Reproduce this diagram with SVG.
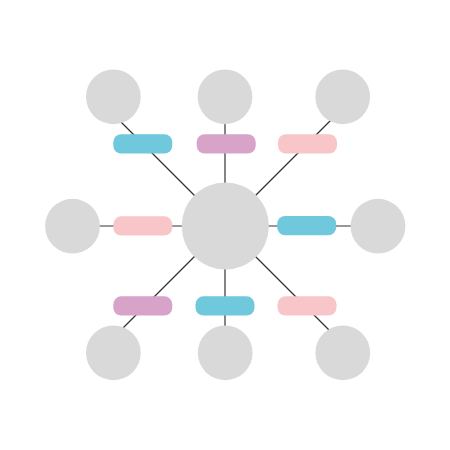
<svg xmlns="http://www.w3.org/2000/svg" width="450" height="450" viewBox="0 0 450 450">
  <style>
    .node { fill: #d9d9d9; }
    .edge { stroke: #333333; stroke-width: 1.2; fill: none; }
    .blue { fill: #70c8dc; }
    .purple { fill: #d8a3c9; }
    .pink { fill: #f8c6c8; }
  </style>
  <rect width="450" height="450" fill="#ffffff"/>
  <g id="connectors">
    <line class="edge" x1="225" y1="226" x2="113" y2="114"/>
    <line class="edge" x1="225" y1="226" x2="225" y2="97"/>
    <line class="edge" x1="225" y1="226" x2="338" y2="113"/>
    <line class="edge" x1="225" y1="226" x2="72.5" y2="226"/>
    <line class="edge" x1="225" y1="226" x2="378" y2="226"/>
    <line class="edge" x1="225" y1="226" x2="113" y2="338"/>
    <line class="edge" x1="225" y1="226" x2="225" y2="353"/>
    <line class="edge" x1="225" y1="226" x2="338" y2="339"/>
  </g>
  <g id="labels">
    <rect id="label-tl" class="blue" x="113.3" y="134.2" width="59" height="19.3" rx="8"/>
    <rect id="label-t" class="purple" x="196.7" y="134.2" width="59" height="19.3" rx="8"/>
    <rect id="label-tr" class="pink" x="278" y="134.2" width="59" height="19.3" rx="8"/>
    <rect id="label-l" class="pink" x="113.3" y="216.3" width="59" height="19.3" rx="8"/>
    <rect id="label-r" class="blue" x="277.2" y="216" width="59" height="19.3" rx="8"/>
    <rect id="label-bl" class="purple" x="113.3" y="296.3" width="59" height="19.3" rx="8"/>
    <rect id="label-b" class="blue" x="195.5" y="296.3" width="59" height="19.3" rx="8"/>
    <rect id="label-br" class="pink" x="277.5" y="296.3" width="59" height="19.3" rx="8"/>
  </g>
  <g id="center"><circle class="node" cx="225.3" cy="226" r="43.6"/></g>
  <g id="node-tl"><circle class="node" cx="113.4" cy="96.8" r="27.4"/></g>
  <g id="node-t"><circle class="node" cx="225" cy="96.8" r="27.4"/></g>
  <g id="node-tr"><circle class="node" cx="342.7" cy="96.8" r="27.4"/></g>
  <g id="node-l"><circle class="node" cx="72.5" cy="226.2" r="27.4"/></g>
  <g id="node-r"><circle class="node" cx="378" cy="226.2" r="27.4"/></g>
  <g id="node-bl"><circle class="node" cx="113.4" cy="352.8" r="27.4"/></g>
  <g id="node-b"><circle class="node" cx="225.2" cy="352.8" r="27.4"/></g>
  <g id="node-br"><circle class="node" cx="342.8" cy="352.8" r="27.4"/></g>
</svg>
